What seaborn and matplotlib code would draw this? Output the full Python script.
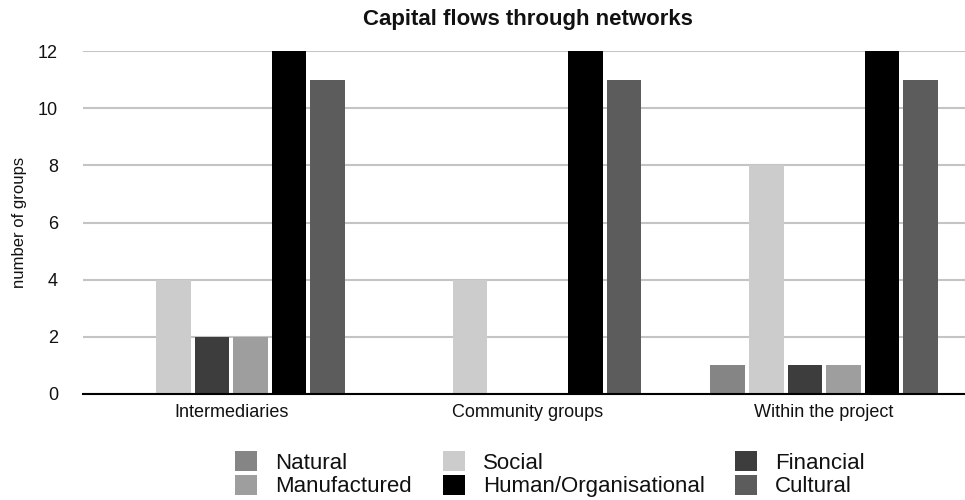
import matplotlib
matplotlib.use("Agg")
import matplotlib.pyplot as plt
from matplotlib.patches import Patch
import pandas as pd
import seaborn as sns

categories = ["Intermediaries", "Community groups", "Within the project"]
series = ["Natural", "Social", "Financial", "Manufactured", "Human/Organisational", "Cultural"]
natural = [0, 0, 1]
social = [4, 4, 8]
financial = [2, 0, 1]
manufactured = [2, 0, 1]
human = [12, 12, 12]
cultural = [11, 11, 11]
colors = ["#858585", "#cbcccb", "#3c3d3c", "#9d9e9d", "#000000", "#5b5c5b"]

values = [natural, social, financial, manufactured, human, cultural]
rows = []
for s, vals in zip(series, values):
    for c, v in zip(categories, vals):
        rows.append({"category": c, "series": s, "value": v})
df = pd.DataFrame(rows)

sns.set_theme(style="white")
plt.rcParams["font.family"] = ["Liberation Sans", "DejaVu Sans"]

fig = plt.figure(figsize=(9.65, 5.0), dpi=100)
ax = fig.add_axes([83 / 965, 106 / 500, 1 - 83 / 965, 343 / 500])

sns.barplot(data=df, x="category", y="value", hue="series", hue_order=series,
            order=categories, palette=colors, width=0.78, gap=0.1,
            saturation=1, legend=False, ax=ax, zorder=3,
            edgecolor="none", linewidth=0)

ax.set_ylim(0, 12)
ax.set_xlim(-0.5, 2.475)
ax.set_yticks(range(0, 13, 2))
ax.grid(axis="y", color="#c4c4c4", linewidth=1.5, zorder=0)
ax.set_axisbelow(True)
for side in ["left", "right", "top"]:
    ax.spines[side].set_visible(False)
ax.spines["bottom"].set_color("#000000")
ax.spines["bottom"].set_linewidth(1.5)
ax.spines["bottom"].set_zorder(4)
ax.tick_params(axis="y", length=0, pad=18, labelsize=13, labelcolor="#111111")
ax.tick_params(axis="x", length=0, pad=7, labelsize=13, labelcolor="#111111")
ax.set_xlabel("")
ax.set_ylabel("number of groups", fontsize=12, labelpad=8, color="#111111")

fig.text(528 / 965, 1 - 20 / 500, "Capital flows through networks",
         ha="center", va="center", fontsize=16, fontweight="bold", color="#111111")

# legend laid out in three columns, row-major order
col_x = [235 / 965, 443 / 965, 735 / 965]
for i, x in enumerate(col_x):
    handles = [Patch(facecolor=colors[i], edgecolor="none"),
               Patch(facecolor=colors[i + 3], edgecolor="none")]
    labels = [series[i], series[i + 3]]
    fig.legend(handles, labels, loc="upper left", bbox_to_anchor=(x, 1 - 451 / 500),
               frameon=False, fontsize=16, handlelength=1.0, handleheight=1.0,
               handletextpad=0.8, labelspacing=0.05, borderaxespad=0, borderpad=0,
               labelcolor="#111111")

fig.savefig("out.png", dpi=100)
